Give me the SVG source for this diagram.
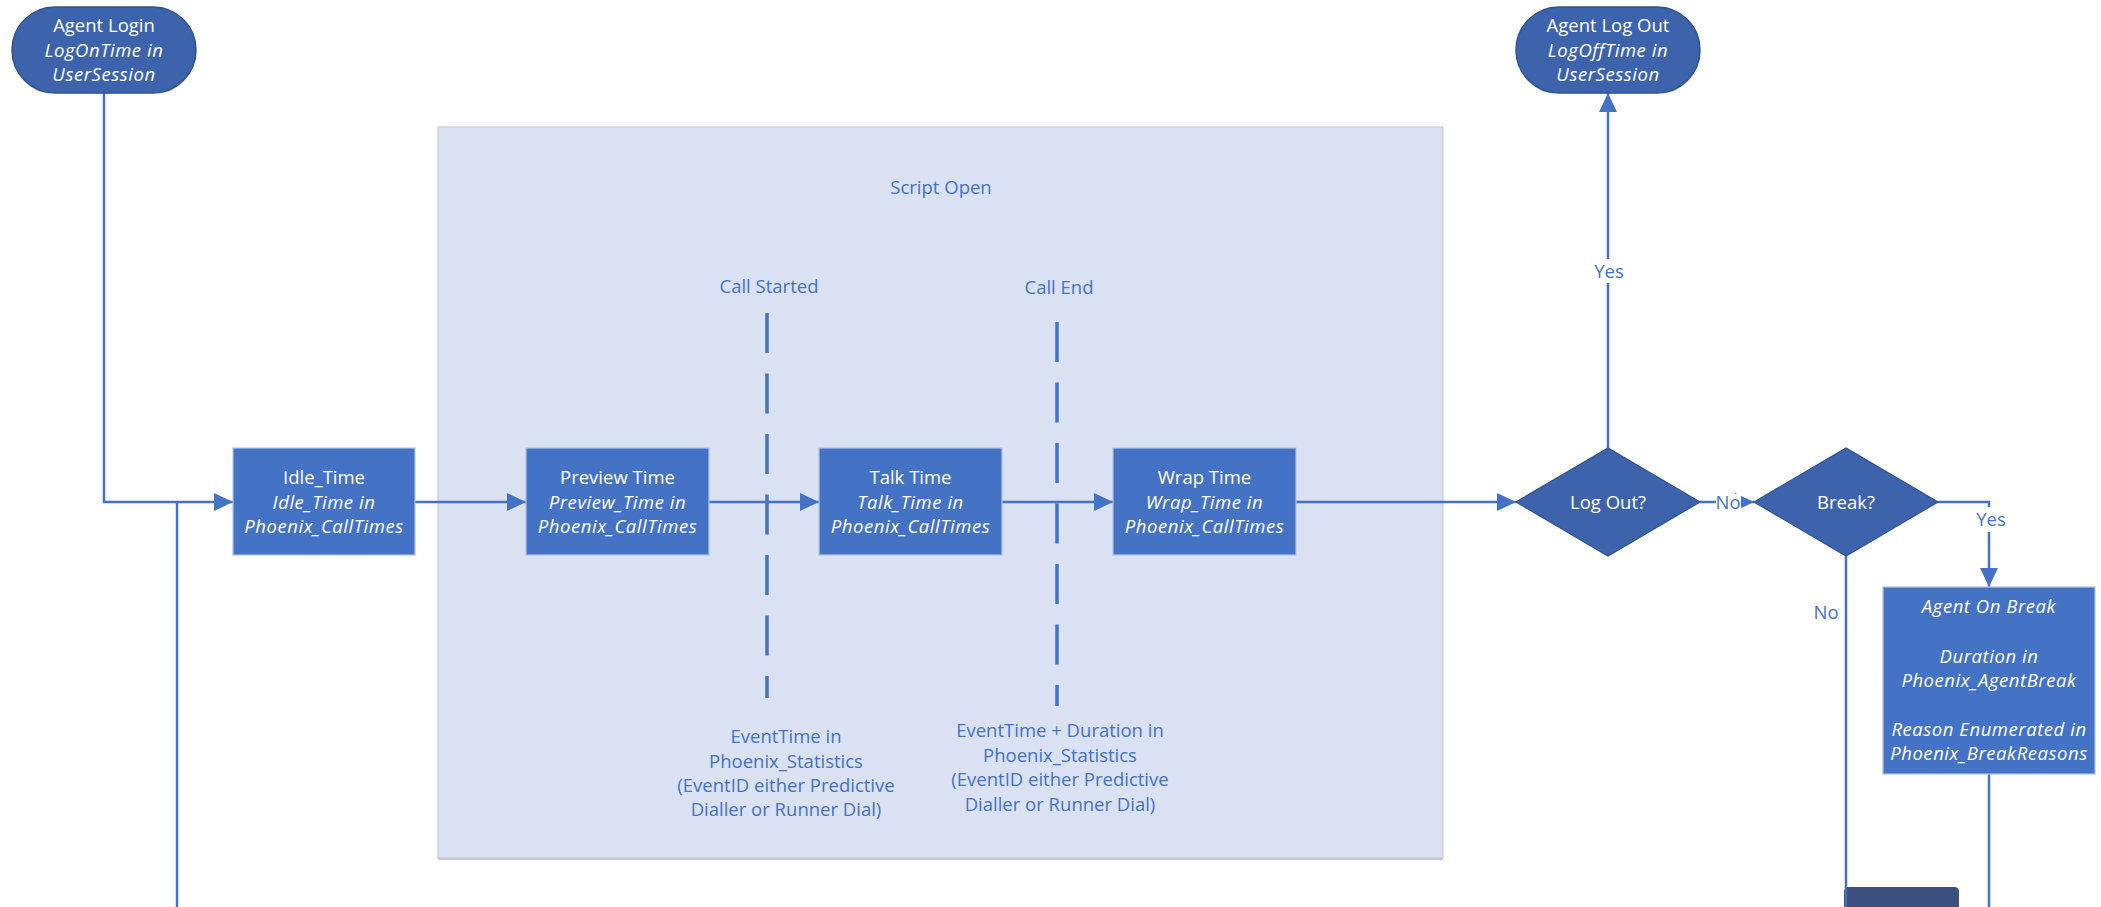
<svg xmlns="http://www.w3.org/2000/svg" width="2101" height="907" viewBox="0 0 2101 907">
<style>
.t{font-family:"Open Sans","Noto Sans","Liberation Sans",sans-serif;font-size:18.5px;text-anchor:middle}
.w{fill:#ffffff}
.b{fill:#4472C4}
.i{font-style:italic;letter-spacing:0.55px}
.box{fill:#4472C4;stroke:#B4C3E0;stroke-width:1.2}
.term{fill:#3D63AC;stroke:#2F528F;stroke-width:1.5}
.dia{fill:#3D63AC;stroke:#2F528F;stroke-width:1.2}
.c{fill:none;stroke:#4472C4;stroke-width:2.5}
.dash{fill:none;stroke:#4472C4;stroke-width:3.5;stroke-dasharray:40 20.5;stroke-linecap:butt}
</style>
<defs>
<marker id="ah" viewBox="0 0 19 18" refX="19" refY="9" markerWidth="19" markerHeight="18" markerUnits="userSpaceOnUse" orient="auto">
<path d="M0,0 L19,9 L0,18 Z" fill="#4472C4"/>
</marker>
</defs>
<rect x="0" y="0" width="2101" height="907" fill="#ffffff"/>

<g id="script-open">
<rect x="438" y="127" width="1005" height="731" fill="#DAE1F2" stroke="#C6CCD8" stroke-width="1.2"/>
<line x1="438" y1="859" x2="1443" y2="859" stroke="#C3C8D2" stroke-width="2"/>
<text class="t b" x="941" y="194">Script Open</text>
</g>

<g id="call-started">
<text class="t b" x="769" y="293">Call Started</text>
<line class="dash" x1="767" y1="313" x2="767" y2="698"/>
<text class="t b" x="786" y="743">EventTime in</text>
<text class="t b" x="786" y="768">Phoenix_Statistics</text>
<text class="t b" x="786" y="792">(EventID either Predictive</text>
<text class="t b" x="786" y="816">Dialler or Runner Dial)</text>
</g>

<g id="call-end">
<text class="t b" x="1059" y="294">Call End</text>
<line class="dash" x1="1057" y1="322" x2="1057" y2="706"/>
<text class="t b" x="1060" y="737">EventTime + Duration in</text>
<text class="t b" x="1060" y="762">Phoenix_Statistics</text>
<text class="t b" x="1060" y="786">(EventID either Predictive</text>
<text class="t b" x="1060" y="811">Dialler or Runner Dial)</text>
</g>

<g id="connectors">
<path class="c" d="M104,93 V502 H233" marker-end="url(#ah)"/>
<path class="c" d="M177,907 V502"/>
<path class="c" d="M415,502 H526" marker-end="url(#ah)"/>
<path class="c" d="M709,502 H819" marker-end="url(#ah)"/>
<path class="c" d="M1002,502 H1113" marker-end="url(#ah)"/>
<path class="c" d="M1296,502 H1516" marker-end="url(#ah)"/>
<path class="c" d="M1608,448 V93" marker-end="url(#ah)"/>
<path class="c" d="M1700,502 H1754" marker-end="url(#ah)"/>
<path class="c" d="M1937,502 H1989 V587" marker-end="url(#ah)"/>
<path class="c" d="M1846,556 V907"/>
<path class="c" d="M1989,774 V907"/>
<rect x="1592" y="259" width="33" height="24" fill="#ffffff"/>
<text class="t b" x="1609" y="278">Yes</text>
<rect x="1716" y="494" width="25" height="18" fill="#ffffff"/>
<text class="t b" x="1728" y="509">No</text>
<rect x="1975" y="507" width="32" height="25" fill="#ffffff"/>
<text class="t b" x="1991" y="526">Yes</text>
<text class="t b" x="1826" y="619">No</text>
</g>

<g id="agent-login">
<rect class="term" x="12" y="7" width="184" height="86" rx="43" ry="43"/>
<text class="t w" x="104" y="32">Agent Login</text>
<text class="t w i" x="104" y="57">LogOnTime in</text>
<text class="t w i" x="104" y="81">UserSession</text>
</g>

<g id="agent-logout">
<rect class="term" x="1516" y="7" width="184" height="86" rx="43" ry="43"/>
<text class="t w" x="1608" y="32">Agent Log Out</text>
<text class="t w i" x="1608" y="57">LogOffTime in</text>
<text class="t w i" x="1608" y="81">UserSession</text>
</g>

<g id="idle-time">
<rect class="box" x="233" y="448" width="182" height="107"/>
<text class="t w" x="324" y="484">Idle_Time</text>
<text class="t w i" x="324" y="509">Idle_Time in</text>
<text class="t w i" x="324" y="533">Phoenix_CallTimes</text>
</g>

<g id="preview-time">
<rect class="box" x="526" y="448" width="183" height="107"/>
<text class="t w" x="617.5" y="484">Preview Time</text>
<text class="t w i" x="617.5" y="509">Preview_Time in</text>
<text class="t w i" x="617.5" y="533">Phoenix_CallTimes</text>
</g>

<g id="talk-time">
<rect class="box" x="819" y="448" width="183" height="107"/>
<text class="t w" x="910.5" y="484">Talk Time</text>
<text class="t w i" x="910.5" y="509">Talk_Time in</text>
<text class="t w i" x="910.5" y="533">Phoenix_CallTimes</text>
</g>

<g id="wrap-time">
<rect class="box" x="1113" y="448" width="183" height="107"/>
<text class="t w" x="1204.5" y="484">Wrap Time</text>
<text class="t w i" x="1204.5" y="509">Wrap_Time in</text>
<text class="t w i" x="1204.5" y="533">Phoenix_CallTimes</text>
</g>

<g id="log-out-decision">
<polygon class="dia" points="1516,502 1608,448 1700,502 1608,556"/>
<text class="t w" x="1608" y="509">Log Out?</text>
</g>

<g id="break-decision">
<polygon class="dia" points="1754,502 1846,448 1938,502 1846,556"/>
<text class="t w" x="1846" y="509">Break?</text>
</g>

<g id="agent-on-break">
<rect class="box" x="1883" y="587" width="212" height="187"/>
<text class="t w i" x="1989" y="613">Agent On Break</text>
<text class="t w i" x="1989" y="663">Duration in</text>
<text class="t w i" x="1989" y="687">Phoenix_AgentBreak</text>
<text class="t w i" x="1989" y="736">Reason Enumerated in</text>
<text class="t w i" x="1989" y="760">Phoenix_BreakReasons</text>
</g>

<g id="partial-node">
<path d="M1844,907 V892 Q1844,887 1849,887 H1954 Q1959,887 1959,892 V907 Z" fill="#3C5180"/>
<line x1="1846" y1="887" x2="1846" y2="907" stroke="#4472C4" stroke-width="2"/>
</g>
</svg>
